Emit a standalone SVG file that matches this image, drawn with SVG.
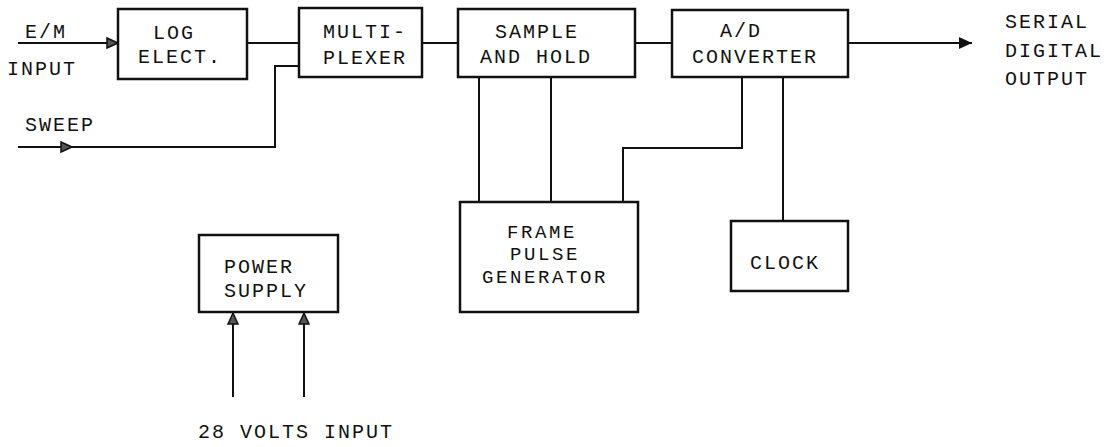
<svg xmlns="http://www.w3.org/2000/svg" width="1115" height="447" viewBox="0 0 1115 447">
<defs>
<style>
.box{fill:#fff;stroke:#111;stroke-width:2.5}
.ln{fill:none;stroke:#111;stroke-width:2}
text{font-family:"Liberation Mono","Courier New",monospace;font-size:20px;letter-spacing:2px;fill:#111}
.sm{font-size:19px;letter-spacing:2.6px}
</style>
<marker id="ah" markerUnits="userSpaceOnUse" markerWidth="14" markerHeight="14" refX="12" refY="6" orient="auto" viewBox="0 0 14 12">
<path d="M1,1 L12,6 L1,11 z" fill="#555" stroke="#111" stroke-width="1.5"/>
</marker>
<marker id="ahs" markerUnits="userSpaceOnUse" markerWidth="14" markerHeight="14" refX="13" refY="6" orient="auto" viewBox="0 0 14 12">
<path d="M0,0 L13,6 L0,12 z" fill="#111"/>
</marker>
</defs>
<rect width="1115" height="447" fill="#fff"/>
<g id="connectors">
<line class="ln" x1="18" y1="43" x2="118" y2="43" marker-end="url(#ah)"/>
<line class="ln" x1="18" y1="147" x2="72" y2="147" marker-end="url(#ah)"/>
<polyline class="ln" points="70,147 275,147 275,66 299,66"/>
<line class="ln" x1="247" y1="43" x2="299" y2="43"/>
<line class="ln" x1="422" y1="43" x2="458" y2="43"/>
<line class="ln" x1="635" y1="43" x2="672" y2="43"/>
<line class="ln" x1="848" y1="43" x2="972" y2="43" marker-end="url(#ahs)"/>
<line class="ln" x1="479" y1="77" x2="479" y2="202"/>
<line class="ln" x1="551" y1="77" x2="551" y2="202"/>
<polyline class="ln" points="742,77 742,148 623,148 623,202"/>
<line class="ln" x1="783" y1="77" x2="783" y2="221"/>
<line class="ln" x1="233" y1="397" x2="233" y2="313" marker-end="url(#ah)"/>
<line class="ln" x1="304" y1="397" x2="304" y2="313" marker-end="url(#ah)"/>
</g>
<g id="log">
<rect class="box" x="118" y="9" width="129" height="70"/>
<text x="153" y="39">LOG</text>
<text x="138" y="63">ELECT.</text>
</g>
<g id="mux">
<rect class="box" x="299" y="8" width="123" height="69"/>
<text x="323" y="38">MULTI-</text>
<text x="323" y="64">PLEXER</text>
</g>
<g id="sample">
<rect class="box" x="458" y="9" width="177" height="68"/>
<text x="495" y="38">SAMPLE</text>
<text x="480" y="63">AND HOLD</text>
</g>
<g id="adc">
<rect class="box" x="672" y="10" width="176" height="67"/>
<text x="720" y="37">A/D</text>
<text x="692" y="63">CONVERTER</text>
</g>
<g id="frame">
<rect class="box" x="460" y="202" width="178" height="110"/>
<text class="sm" x="507" y="238">FRAME</text>
<text class="sm" x="510" y="260">PULSE</text>
<text class="sm" x="482" y="283">GENERATOR</text>
</g>
<g id="clock">
<rect class="box" x="731" y="221" width="117" height="70"/>
<text x="750" y="269">CLOCK</text>
</g>
<g id="power">
<rect class="box" x="199" y="235" width="139" height="77"/>
<text x="224" y="273">POWER</text>
<text x="224" y="297">SUPPLY</text>
</g>
<g id="labels">
<text x="25" y="38">E/M</text>
<text x="7" y="75">INPUT</text>
<text x="25" y="131">SWEEP</text>
<text x="1005" y="28">SERIAL</text>
<text x="1005" y="57">DIGITAL</text>
<text x="1005" y="85">OUTPUT</text>
<text x="198" y="438">28 VOLTS INPUT</text>
</g>
</svg>
